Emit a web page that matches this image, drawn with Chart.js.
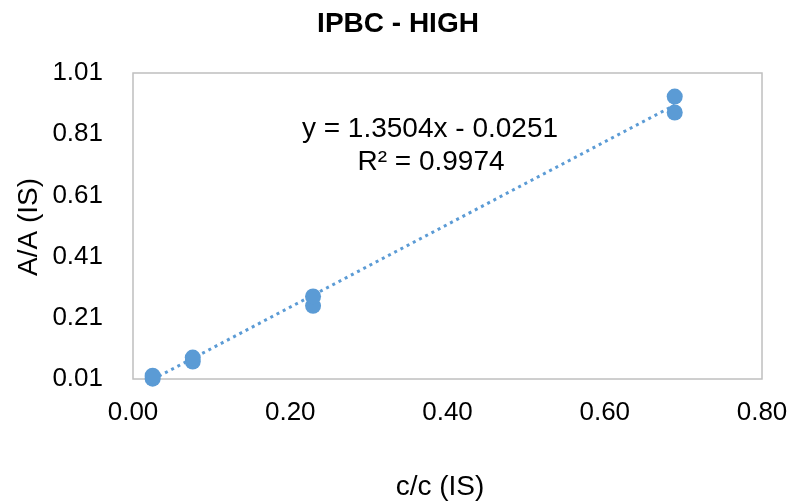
<!DOCTYPE html>
<html>
<head>
<meta charset="utf-8">
<script src="https://cdn.jsdelivr.net/npm/chart.js@4/dist/chart.umd.min.js"></script>
<style>
  html, body { margin: 0; padding: 0; background: #ffffff; }
  #wrap { width: 796px; height: 502px; position: relative; }
</style>
</head>
<body>
<div id="wrap"><canvas id="c" width="796" height="502"></canvas></div>
<script>
// ---- data ----
const chartTitle = "IPBC - HIGH";
const xAxisTitle = "c/c (IS)";
const yAxisTitle = "A/A (IS)";
const xValues = [0.025, 0.025, 0.076, 0.076, 0.229, 0.229, 0.689, 0.689];
const yValues = [0.011, 0.021, 0.067, 0.080, 0.249, 0.280, 0.881, 0.933];
const xTicks = [0.00, 0.20, 0.40, 0.60, 0.80];
const yTicks = [0.01, 0.21, 0.41, 0.61, 0.81, 1.01];
const trendSlope = [1.3504];
const trendIntercept = [-0.0251];
const equationLines = ["y = 1.3504x - 0.0251", "R\u00b2 = 0.9974"];

const blue = "#5b9bd5";
const FONT = "'Liberation Sans', Arial, Helvetica, sans-serif";

const points = xValues.map((x, i) => ({ x: x, y: yValues[i] }));
const xMin = Math.min(...xValues), xMax = Math.max(...xValues);
const trend = [xMin, xMax].map(x => ({ x: x, y: trendSlope[0] * x + trendIntercept[0] }));

const decor = {
  id: 'decor',
  beforeDatasetsDraw(chart) {
    const { ctx, chartArea: a } = chart;
    ctx.save();
    ctx.strokeStyle = '#bfbfbf';
    ctx.lineWidth = 1.5;
    ctx.strokeRect(a.left, a.top, a.right - a.left, a.bottom - a.top);
    ctx.restore();
  },
  afterDraw(chart) {
    const { ctx } = chart;
    ctx.save();
    ctx.fillStyle = '#000000';
    ctx.textAlign = 'center';
    ctx.textBaseline = 'middle';
    // title
    ctx.font = "bold 28px " + FONT;
    ctx.fillText(chartTitle, 398, 24);
    // x title
    ctx.font = "28px " + FONT;
    ctx.fillText(xAxisTitle, 440, 487);
    // y title
    ctx.save();
    ctx.translate(29, 227);
    ctx.rotate(-Math.PI / 2);
    ctx.font = "28px " + FONT;
    ctx.fillText(yAxisTitle, 0, 0);
    ctx.restore();
    // equation
    ctx.font = "28px " + FONT;
    ctx.fillText(equationLines[0], 430, 129);
    ctx.fillText(equationLines[1], 431, 162);
    ctx.restore();
  }
};

new Chart(document.getElementById('c'), {
  type: 'scatter',
  data: {
    datasets: [
      {
        label: 'data',
        data: points,
        backgroundColor: blue,
        borderColor: blue,
        pointRadius: 8,
        pointBorderWidth: 0,
        clip: false
      },
      {
        label: 'trend',
        type: 'line',
        data: trend,
        showLine: true,
        borderColor: blue,
        borderWidth: 3,
        borderDash: [3, 4],
        pointRadius: 0,
        fill: false
      }
    ]
  },
  options: {
    responsive: false,
    animation: false,
    devicePixelRatio: 1,
    layout: { padding: { left: 0, right: 34, top: 73, bottom: 0 } },
    plugins: { legend: { display: false }, tooltip: { enabled: false }, title: { display: false } },
    scales: {
      x: {
        type: 'linear',
        min: 0, max: 0.8,
        grid: { display: false, drawTicks: false },
        border: { display: false },
        afterBuildTicks(scale) { scale.ticks = xTicks.map(v => ({ value: v })); },
        afterFit(scale) { scale.height = 123; scale.paddingLeft = 0; scale.paddingRight = 0; },
        ticks: {
          padding: 18,
          color: '#000000',
          font: { family: FONT, size: 26 },
          callback: v => Number(v).toFixed(2)
        }
      },
      y: {
        type: 'linear',
        min: 0.01, max: 1.01,
        grid: { display: false, drawTicks: false },
        border: { display: false },
        afterBuildTicks(scale) { scale.ticks = yTicks.map(v => ({ value: v })); },
        afterFit(scale) { scale.width = 133; scale.paddingTop = 0; scale.paddingBottom = 0; },
        ticks: {
          padding: 30,
          color: '#000000',
          font: { family: FONT, size: 26 },
          callback: v => Number(v).toFixed(2)
        }
      }
    }
  },
  plugins: [decor]
});
</script>
</body>
</html>
